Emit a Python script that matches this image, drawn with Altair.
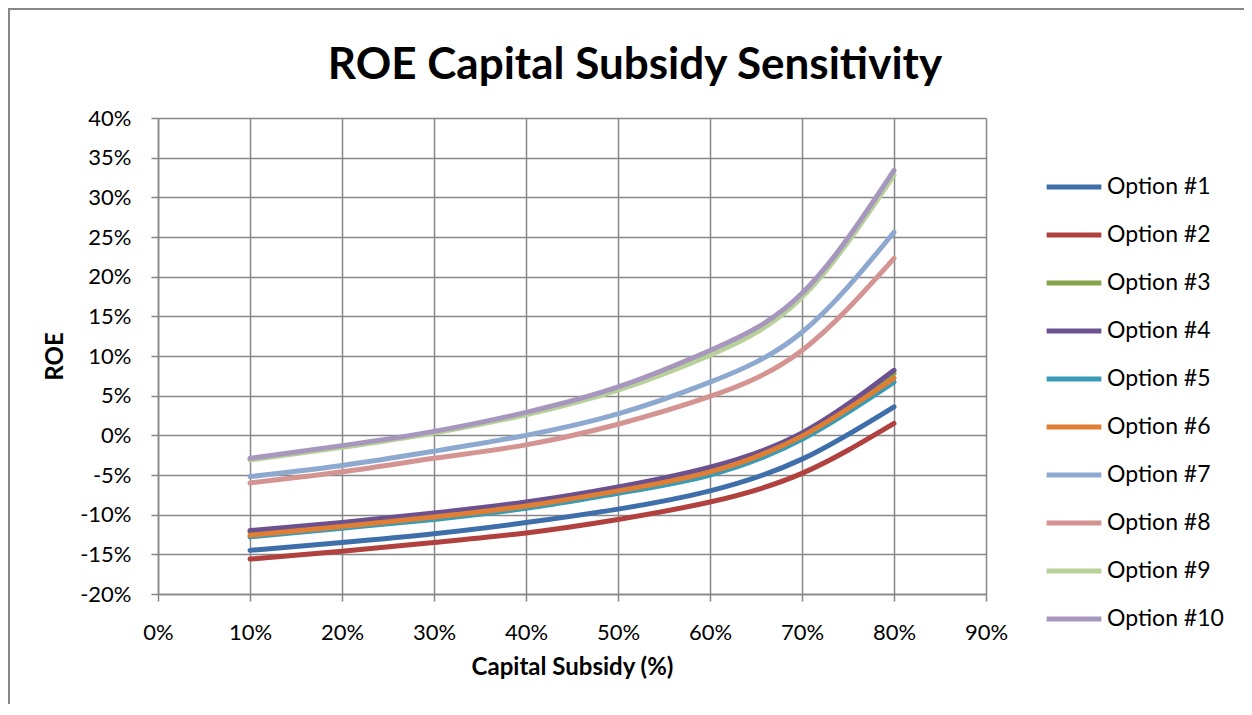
import altair as alt
import pandas as pd

subsidy = [0.10, 0.20, 0.30, 0.40, 0.50, 0.60, 0.70, 0.80]

options = ["Option #1", "Option #2", "Option #3", "Option #4", "Option #5",
           "Option #6", "Option #7", "Option #8", "Option #9", "Option #10"]

roe_opt1 = [-14.5, -13.5, -12.4, -11.0, -9.3, -7.0, -3.0, 3.6]
roe_opt2 = [-15.6, -14.6, -13.5, -12.3, -10.6, -8.4, -4.8, 1.5]
roe_opt3 = [-12.2, -11.2, -10.0, -8.6, -6.7, -4.2, 0.1, 7.8]
roe_opt4 = [-12.0, -11.0, -9.8, -8.4, -6.5, -4.0, 0.3, 8.2]
roe_opt5 = [-12.8, -11.7, -10.6, -9.2, -7.3, -5.0, -0.5, 6.7]
roe_opt6 = [-12.6, -11.5, -10.3, -8.9, -7.0, -4.6, -0.1, 7.2]
roe_opt7 = [-5.2, -3.8, -2.0, 0.0, 2.7, 6.7, 13.0, 25.6]
roe_opt8 = [-6.0, -4.6, -2.9, -1.2, 1.4, 4.9, 10.7, 22.3]
roe_opt9 = [-3.1, -1.5, 0.3, 2.6, 5.7, 10.1, 17.4, 32.8]
roe_opt10 = [-2.9, -1.3, 0.5, 2.9, 6.1, 10.7, 17.9, 33.4]

series = [roe_opt1, roe_opt2, roe_opt3, roe_opt4, roe_opt5,
          roe_opt6, roe_opt7, roe_opt8, roe_opt9, roe_opt10]

colors = ["#3F6FAA", "#B0413E", "#86A44A", "#6B5190", "#3A9BB6",
          "#E07F33", "#8DA9D0", "#D49491", "#B7D198", "#A797BE"]

x_ticks = [0.0, 0.1, 0.2, 0.3, 0.4, 0.5, 0.6, 0.7, 0.8, 0.9]
y_ticks = [-0.20, -0.15, -0.10, -0.05, 0.0, 0.05, 0.10, 0.15, 0.20, 0.25, 0.30, 0.35, 0.40]

rows = []
for idx, (name, vals) in enumerate(zip(options, series)):
    for xv, yv in zip(subsidy, vals):
        rows.append({"option": name, "order": idx, "subsidy": xv, "roe": yv / 100.0})
df = pd.DataFrame(rows)

FONT = "Lato"
GRID = "#878787"
MINUS_FIX = "replace(datum.label, '\u2212', '-')"

W, H = 828, 476

lines = alt.Chart(df).mark_line(interpolate="natural", strokeWidth=5, strokeCap="round").encode(
    x=alt.X("subsidy:Q",
            scale=alt.Scale(domain=[0, 0.9], nice=False, zero=False),
            axis=alt.Axis(values=x_ticks, format=".0%", title="Capital Subsidy (%)",
                          titleFont=FONT, titleFontSize=24, titleFontWeight="bold",
                          titleColor="black", titlePadding=12,
                          labelFont=FONT, labelFontSize=22, labelColor="black",
                          labelFlush=False,
                          labelPadding=21, tickSize=7, tickColor=GRID, tickWidth=1.5,
                          domainColor=GRID, domainWidth=1.5,
                          grid=True, gridColor=GRID, gridWidth=1.5)),
    y=alt.Y("roe:Q",
            scale=alt.Scale(domain=[-0.2, 0.4], nice=False, zero=False),
            axis=alt.Axis(values=y_ticks, format=".0%", title="ROE",
                          labelExpr=MINUS_FIX,
                          titleFont=FONT, titleFontSize=24, titleFontWeight="bold",
                          titleColor="black", titlePadding=12,
                          labelFont=FONT, labelFontSize=22, labelColor="black",
                          labelFlush=False,
                          labelPadding=20, tickSize=7, tickColor=GRID, tickWidth=1.5,
                          domainColor=GRID, domainWidth=1.5,
                          grid=True, gridColor=GRID, gridWidth=1.5)),
    color=alt.Color("option:N",
                    scale=alt.Scale(domain=options, range=colors),
                    legend=alt.Legend(title=None, orient="none", legendX=886, legendY=39,
                                      symbolType="stroke", symbolSize=3000,
                                      symbolStrokeWidth=5, labelFont=FONT,
                                      labelFontSize=23, labelColor="black",
                                      rowPadding=6, labelOffset=3)),
    detail="option:N",
)

frame = alt.Chart(alt.Data(values=[{"k": 1}])).mark_rect(
    fill="transparent", stroke=GRID, strokeWidth=2, clip=False
).encode(
    x=alt.value(-149), x2=alt.value(W + 400),
    y=alt.value(-109), y2=alt.value(H + 300),
)

chart = alt.layer(frame, lines).properties(
    width=W, height=H,
    title=alt.TitleParams("ROE Capital Subsidy Sensitivity", font=FONT, fontSize=44,
                          fontWeight="bold", color="black", anchor="middle", dx=63,
                          offset=0, dy=80),
    autosize=alt.AutoSizeParams(type="none"),
    padding={"left": 150, "top": 110, "right": 258, "bottom": 110},
).configure_view(stroke=None).configure(background="white")

chart.save("out.html", embed_options={"renderer": "svg", "actions": False})
